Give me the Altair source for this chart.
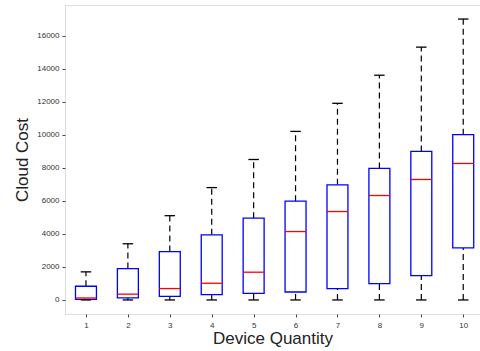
import altair as alt
import pandas as pd

quantity = [1, 2, 3, 4, 5, 6, 7, 8, 9, 10]
whisker_low = [0, 0, 0, 0, 0, 0, 0, 0, 0, 0]
q1 = [30, 120, 220, 320, 400, 480, 680, 990, 1470, 3150]
median = [120, 350, 690, 1010, 1680, 4140, 5350, 6320, 7290, 8260]
q3 = [830, 1900, 2930, 3940, 4950, 5980, 6970, 7960, 8990, 10000]
whisker_high = [1700, 3400, 5100, 6800, 8500, 10200, 11900, 13600, 15300, 17000]
y_ticks = [0, 2000, 4000, 6000, 8000, 10000, 12000, 14000, 16000]

df = pd.DataFrame({
    "q": quantity, "lo": whisker_low, "q1": q1, "med": median,
    "q3": q3, "hi": whisker_high,
})
df["bl"] = df["q"] - 0.25
df["br"] = df["q"] + 0.25
df["cl"] = df["q"] - 0.125
df["cr"] = df["q"] + 0.125

FONT = "Liberation Sans"
xscale = alt.Scale(domain=[0.5, 10.4], nice=False, zero=False)
yscale = alt.Scale(domain=[-850, 17850], nice=False, zero=False)

xaxis = alt.Axis(values=quantity, title="Device Quantity", grid=False, domain=False,
                 tickSize=3, tickColor="#444", labelFontSize=8, labelColor="#333",
                 labelFont=FONT, titleFont=FONT, titleFontSize=17, titleFontWeight="normal",
                 titleColor="#222", labelPadding=4, titlePadding=1, format="d",
                 labelOverlap=False)
yaxis = alt.Axis(values=y_ticks, title="Cloud Cost", grid=False,
                 domain=False, tickSize=3, tickColor="#444", labelFontSize=8,
                 labelColor="#333", labelFont=FONT, titleFont=FONT, titleFontSize=17,
                 titleFontWeight="normal", titleColor="#222", labelPadding=3,
                 titlePadding=5, format="d", labelOverlap=False)


def X(field):
    return alt.X(field, type="quantitative", scale=xscale, axis=xaxis)


def Y(field):
    return alt.Y(field, type="quantitative", scale=yscale, axis=yaxis)


base = alt.Chart(df)

whisk_up = base.mark_rule(color="black", strokeDash=[6, 4], strokeWidth=1.2).encode(
    x=X("q"), y=Y("q3"), y2="hi:Q",
)
whisk_dn = base.mark_rule(color="black", strokeDash=[6, 4], strokeWidth=1.2).encode(
    x=X("q"), y=Y("lo"), y2="q1:Q",
)
boxes = base.mark_rect(fill="white", stroke="blue", strokeWidth=1.3).encode(
    x=X("bl"), x2="br:Q", y=Y("q1"), y2="q3:Q",
)
meds = base.mark_rule(color="red", strokeWidth=1.3).encode(
    x=X("bl"), x2="br:Q", y=Y("med"),
)
cap_hi = base.mark_rule(color="black", strokeWidth=1.3).encode(
    x=X("cl"), x2="cr:Q", y=Y("hi"),
)
cap_lo = base.mark_rule(color="black", strokeWidth=1.3).encode(
    x=X("cl"), x2="cr:Q", y=Y("lo"),
)

chart = alt.layer(whisk_up, whisk_dn, boxes, meds, cap_hi, cap_lo).properties(
    width=415, height=309,
    autosize=alt.AutoSizeParams(type="none"),
    padding={"left": 65, "top": 5, "right": 0, "bottom": 37},
).configure_view(stroke="#555", strokeWidth=1.5).configure(background="white")

chart.save("out.html", embed_options={"renderer": "svg", "actions": False})
